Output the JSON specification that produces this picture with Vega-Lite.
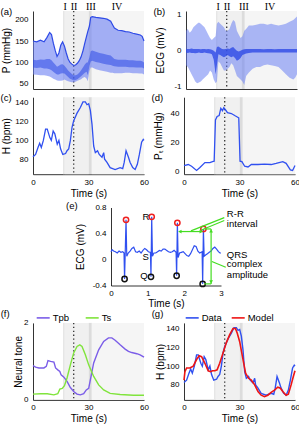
{
"$schema":"https://vega.github.io/schema/vega-lite/v6.json",
"padding":{"left":0,"top":1,"right":0,"bottom":0},
"datasets":{
"bands":[{"t":16.2,"t1":17.2,"kind":"edge"},{"t":17.2,"t1":30.1,"kind":"mid"},{"t":30.1,"t1":31.8,"kind":"dark"},{"t":31.8,"t1":60,"kind":"late"}],
"roman":[{"t":17.4,"label":"I"},{"t":22.2,"label":"II"},{"t":31.3,"label":"III"},{"t":45.4,"label":"IV"}],
"pressure":[{"t":0,"up":150,"lo":72,"mhi":106,"mlo":88},{"t":2,"up":148,"lo":71,"mhi":105,"mlo":87},{"t":4,"up":152,"lo":70,"mhi":107,"mlo":88},{"t":6,"up":148,"lo":70,"mhi":106,"mlo":86},{"t":7.5,"up":158,"lo":69,"mhi":108,"mlo":86},{"t":9,"up":170,"lo":67,"mhi":108,"mlo":84},{"t":10,"up":165,"lo":65,"mhi":105,"mlo":82},{"t":11,"up":145,"lo":62,"mhi":100,"mlo":78},{"t":12,"up":128,"lo":60,"mhi":95,"mlo":75},{"t":13,"up":114,"lo":58,"mhi":90,"mlo":72},{"t":14,"up":122,"lo":57,"mhi":92,"mlo":72},{"t":15,"up":140,"lo":57,"mhi":95,"mlo":74},{"t":16,"up":148,"lo":58,"mhi":96,"mlo":75},{"t":17,"up":138,"lo":60,"mhi":92,"mlo":74},{"t":18,"up":122,"lo":58,"mhi":87,"mlo":70},{"t":19,"up":108,"lo":56,"mhi":81,"mlo":66},{"t":20,"up":100,"lo":55,"mhi":77,"mlo":62},{"t":21,"up":96,"lo":54,"mhi":73,"mlo":60},{"t":22,"up":93,"lo":54,"mhi":70,"mlo":58},{"t":23,"up":94,"lo":55,"mhi":70,"mlo":59},{"t":24,"up":98,"lo":57,"mhi":72,"mlo":61},{"t":25,"up":104,"lo":59,"mhi":76,"mlo":64},{"t":26,"up":113,"lo":61,"mhi":82,"mlo":68},{"t":27,"up":127,"lo":64,"mhi":88,"mlo":72},{"t":28,"up":145,"lo":66,"mhi":95,"mlo":76},{"t":29,"up":162,"lo":62,"mhi":100,"mlo":78},{"t":29.6,"up":172,"lo":56,"mhi":100,"mlo":70},{"t":30.5,"up":185,"lo":80,"mhi":112,"mlo":92},{"t":31.2,"up":205,"lo":88,"mhi":126,"mlo":102},{"t":32,"up":207,"lo":88,"mhi":128,"mlo":104},{"t":34,"up":205,"lo":84,"mhi":125,"mlo":101},{"t":36,"up":204,"lo":82,"mhi":122,"mlo":99},{"t":38,"up":203,"lo":80,"mhi":120,"mlo":97},{"t":40,"up":201,"lo":78,"mhi":118,"mlo":95},{"t":42,"up":196,"lo":76,"mhi":116,"mlo":94},{"t":43,"up":188,"lo":76,"mhi":112,"mlo":92},{"t":44,"up":180,"lo":75,"mhi":108,"mlo":91},{"t":46,"up":175,"lo":75,"mhi":106,"mlo":90},{"t":48,"up":174,"lo":75,"mhi":106,"mlo":90},{"t":50,"up":172,"lo":76,"mhi":106,"mlo":90},{"t":52,"up":171,"lo":76,"mhi":105,"mlo":89},{"t":54,"up":168,"lo":75,"mhi":105,"mlo":89},{"t":56,"up":166,"lo":75,"mhi":104,"mlo":88},{"t":58,"up":164,"lo":74,"mhi":104,"mlo":88},{"t":59,"up":161,"lo":74,"mhi":103,"mlo":88},{"t":60,"up":150,"lo":72,"mhi":100,"mlo":86}],
"ecg":[{"t":0,"up":0.55,"lo":-0.4,"chi":0.05,"clo":-0.05},{"t":1,"up":0.6,"lo":-0.45,"chi":0.05,"clo":-0.06},{"t":2,"up":0.5,"lo":-0.55,"chi":0.05,"clo":-0.05},{"t":3,"up":0.55,"lo":-0.65,"chi":0.06,"clo":-0.06},{"t":4,"up":0.65,"lo":-0.75,"chi":0.05,"clo":-0.06},{"t":5,"up":0.7,"lo":-0.85,"chi":0.05,"clo":-0.07},{"t":6,"up":0.75,"lo":-0.9,"chi":0.05,"clo":-0.06},{"t":7,"up":0.78,"lo":-0.88,"chi":0.05,"clo":-0.05},{"t":8,"up":0.75,"lo":-0.85,"chi":0.04,"clo":-0.06},{"t":9,"up":0.7,"lo":-0.8,"chi":0.05,"clo":-0.06},{"t":10,"up":0.65,"lo":-0.75,"chi":0.05,"clo":-0.05},{"t":11,"up":0.55,"lo":-0.7,"chi":0.04,"clo":-0.06},{"t":12,"up":0.45,"lo":-0.65,"chi":0.05,"clo":-0.07},{"t":13,"up":0.35,"lo":-0.55,"chi":0.04,"clo":-0.08},{"t":14,"up":0.3,"lo":-0.6,"chi":0.03,"clo":-0.1},{"t":15,"up":0.35,"lo":-0.8,"chi":0,"clo":-0.25},{"t":16,"up":0.4,"lo":-0.9,"chi":-0.05,"clo":-0.65},{"t":16.7,"up":0.75,"lo":-0.85,"chi":0.1,"clo":-0.4},{"t":17.5,"up":0.8,"lo":-0.3,"chi":0.12,"clo":-0.1},{"t":18.5,"up":0.75,"lo":-0.35,"chi":0.08,"clo":-0.12},{"t":19.5,"up":0.7,"lo":-0.45,"chi":0.05,"clo":-0.15},{"t":20.5,"up":0.65,"lo":-0.55,"chi":0.04,"clo":-0.18},{"t":21.5,"up":0.55,"lo":-0.55,"chi":0.05,"clo":-0.15},{"t":22.5,"up":0.55,"lo":-0.5,"chi":0.06,"clo":-0.12},{"t":23.5,"up":0.6,"lo":-0.45,"chi":0.05,"clo":-0.15},{"t":24.5,"up":0.75,"lo":-0.35,"chi":0.08,"clo":-0.18},{"t":25.5,"up":0.85,"lo":-0.4,"chi":0.1,"clo":-0.15},{"t":26.5,"up":0.8,"lo":-0.55,"chi":0.05,"clo":-0.2},{"t":27.5,"up":0.55,"lo":-0.7,"chi":0,"clo":-0.28},{"t":28.5,"up":0.45,"lo":-0.75,"chi":-0.02,"clo":-0.25},{"t":29.5,"up":0.35,"lo":-0.8,"chi":0,"clo":-0.2},{"t":30.5,"up":0.4,"lo":-0.85,"chi":0.03,"clo":-0.12},{"t":31.5,"up":0.55,"lo":-0.95,"chi":0.04,"clo":-0.1},{"t":32.5,"up":0.6,"lo":-0.7,"chi":0.05,"clo":-0.08},{"t":34,"up":0.7,"lo":-0.6,"chi":0.05,"clo":-0.06},{"t":36,"up":0.7,"lo":-0.5,"chi":0.05,"clo":-0.05},{"t":38,"up":0.72,"lo":-0.45,"chi":0.05,"clo":-0.05},{"t":40,"up":0.75,"lo":-0.45,"chi":0.05,"clo":-0.05},{"t":42,"up":0.75,"lo":-0.4,"chi":0.04,"clo":-0.05},{"t":44,"up":0.72,"lo":-0.38,"chi":0.05,"clo":-0.05},{"t":46,"up":0.75,"lo":-0.4,"chi":0.05,"clo":-0.05},{"t":48,"up":0.72,"lo":-0.42,"chi":0.04,"clo":-0.05},{"t":50,"up":0.7,"lo":-0.45,"chi":0.05,"clo":-0.05},{"t":52,"up":0.72,"lo":-0.55,"chi":0.05,"clo":-0.05},{"t":54,"up":0.75,"lo":-0.65,"chi":0.05,"clo":-0.05},{"t":56,"up":0.8,"lo":-0.75,"chi":0.05,"clo":-0.05},{"t":58,"up":0.85,"lo":-0.8,"chi":0.05,"clo":-0.05},{"t":59,"up":0.9,"lo":-0.75,"chi":0.05,"clo":-0.05},{"t":60,"up":0.95,"lo":-0.65,"chi":0.05,"clo":-0.05}],
"hr":[{"t":0,"h":82.5},{"t":1.4,"h":85},{"t":2.7,"h":92.5},{"t":3.6,"h":97},{"t":4.5,"h":92.5},{"t":5.6,"h":100},{"t":6.8,"h":112},{"t":7.7,"h":112},{"t":9.1,"h":103},{"t":9.9,"h":100},{"t":10.9,"h":110},{"t":11.8,"h":107},{"t":13.1,"h":96},{"t":14,"h":100},{"t":14.9,"h":91},{"t":16.1,"h":85},{"t":17.6,"h":86},{"t":18.4,"h":89},{"t":19.3,"h":91},{"t":20.2,"h":100},{"t":21.1,"h":114},{"t":22,"h":121},{"t":23.8,"h":129},{"t":25.6,"h":135},{"t":27,"h":141},{"t":28.3,"h":141},{"t":29.2,"h":138},{"t":30.1,"h":139},{"t":31,"h":132},{"t":31.9,"h":117},{"t":32.8,"h":94},{"t":33.7,"h":87},{"t":34.9,"h":89},{"t":35.8,"h":85},{"t":37.3,"h":82},{"t":38.2,"h":87},{"t":38.7,"h":80},{"t":40,"h":76.5},{"t":41.7,"h":71},{"t":44.4,"h":69},{"t":47.1,"h":71},{"t":48.5,"h":70},{"t":49.3,"h":76.5},{"t":50.3,"h":89},{"t":51.6,"h":82},{"t":52.5,"h":76.5},{"t":53.9,"h":71},{"t":55.2,"h":69},{"t":56.4,"h":74.5},{"t":57.5,"h":85},{"t":58.7,"h":98},{"t":59.6,"h":101},{"t":60,"h":100}],
"pt":[{"t":0,"p":4},{"t":2.3,"p":4.7},{"t":4.1,"p":3.5},{"t":6.8,"p":0.6},{"t":8.6,"p":2.6},{"t":11.3,"p":6},{"t":14,"p":6},{"t":15.4,"p":6.7},{"t":16.3,"p":7},{"t":17,"p":35.5},{"t":17.9,"p":38},{"t":19,"p":38.6},{"t":19.9,"p":43.6},{"t":20.8,"p":42},{"t":21.5,"p":44},{"t":22.4,"p":42.6},{"t":23.5,"p":40.6},{"t":25.6,"p":40},{"t":27.4,"p":38.6},{"t":28.8,"p":37.6},{"t":29.6,"p":37},{"t":30.3,"p":7},{"t":31.3,"p":6.7},{"t":32.8,"p":3.5},{"t":34.6,"p":3},{"t":36.4,"p":4.7},{"t":40,"p":4.7},{"t":43.5,"p":5},{"t":47.1,"p":4.7},{"t":49.8,"p":5.5},{"t":53.4,"p":6.7},{"t":55.2,"p":5.5},{"t":57.5,"p":1},{"t":58.7,"p":0.6},{"t":60,"p":4}],
"ecg3":[{"t":0,"v":0.12},{"t":0.03,"v":0.15},{"t":0.07,"v":0.13},{"t":0.12,"v":0.12},{"t":0.17,"v":0.1},{"t":0.22,"v":0.13},{"t":0.27,"v":0.11},{"t":0.32,"v":0.12},{"t":0.355,"v":0.1},{"t":0.37,"v":-0.3},{"t":0.41,"v":0.61},{"t":0.43,"v":0.05},{"t":0.47,"v":0.1},{"t":0.52,"v":0.13},{"t":0.57,"v":0.17},{"t":0.62,"v":0.19},{"t":0.67,"v":0.12},{"t":0.72,"v":0.11},{"t":0.77,"v":0.13},{"t":0.82,"v":0.1},{"t":0.87,"v":0.14},{"t":0.92,"v":0.17},{"t":0.97,"v":0.15},{"t":1.02,"v":0.12},{"t":1.075,"v":0.11},{"t":1.09,"v":-0.267},{"t":1.11,"v":0.656},{"t":1.13,"v":0.05},{"t":1.17,"v":0.1},{"t":1.22,"v":0.1},{"t":1.27,"v":0.12},{"t":1.32,"v":0.14},{"t":1.37,"v":0.13},{"t":1.42,"v":0.16},{"t":1.47,"v":0.16},{"t":1.52,"v":0.14},{"t":1.57,"v":0.12},{"t":1.62,"v":0.11},{"t":1.67,"v":0.12},{"t":1.72,"v":0.14},{"t":1.775,"v":0.11},{"t":1.79,"v":-0.25},{"t":1.81,"v":0.564},{"t":1.83,"v":0.03},{"t":1.87,"v":0.1},{"t":1.92,"v":0.11},{"t":1.97,"v":0.12},{"t":2.02,"v":0.09},{"t":2.07,"v":0.06},{"t":2.12,"v":0.05},{"t":2.17,"v":0.09},{"t":2.22,"v":0.15},{"t":2.27,"v":0.21},{"t":2.32,"v":0.2},{"t":2.37,"v":0.13},{"t":2.42,"v":0.1},{"t":2.485,"v":0.12},{"t":2.5,"v":-0.375},{"t":2.52,"v":0.47},{"t":2.54,"v":0.05},{"t":2.58,"v":0.07},{"t":2.63,"v":0.09},{"t":2.68,"v":0.11},{"t":2.73,"v":0.13},{"t":2.78,"v":0.17},{"t":2.83,"v":0.19},{"t":2.88,"v":0.16},{"t":2.93,"v":0.12},{"t":2.97,"v":0.1},{"t":3,"v":0.1}],
"rpk":[{"t":0.41,"v":0.61},{"t":1.11,"v":0.656},{"t":1.81,"v":0.564},{"t":2.52,"v":0.47}],
"qpk":[{"t":0.37,"v":-0.3},{"t":1.09,"v":-0.267},{"t":1.79,"v":-0.25},{"t":2.5,"v":-0.375}],
"rsq":[{"t":0.86,"v":0.615,"label":"R"},{"t":0.86,"v":0.0,"label":"S"},{"t":0.8,"v":-0.3,"label":"Q"}],
"gline":[{"t":1.85,"v":0.43,"t2":2.49,"v2":0.43},{"t":2.55,"v":0.47,"t2":2.73,"v2":0.47},{"t":2.55,"v":-0.375,"t2":2.73,"v2":-0.375},{"t":2.73,"v":0.47,"t2":2.73,"v2":-0.375},{"t":2.18,"v":0.44,"t2":3.09,"v2":0.645},{"t":2.45,"v":0.45,"t2":3.09,"v2":0.6},{"t":2.75,"v":-0.03,"t2":3.13,"v2":-0.12}],
"ghead":[{"t":1.88,"v":0.43,"dir":"l"},{"t":2.46,"v":0.43,"dir":"r"},{"t":2.73,"v":0.44,"dir":"u"},{"t":2.73,"v":-0.345,"dir":"d"}],
"gtext":[{"t":3.16,"v":0.66,"label":"R-R"},{"t":3.16,"v":0.5,"label":"interval"},{"t":3.16,"v":0.03,"label":"QRS"},{"t":3.16,"v":-0.12,"label":"complex"},{"t":3.16,"v":-0.28,"label":"amplitude"}],
"tone":[{"t":0,"v":0.89,"s":"Tpb"},{"t":1.4,"v":0.85,"s":"Tpb"},{"t":3.2,"v":0.83,"s":"Tpb"},{"t":5.9,"v":0.83,"s":"Tpb"},{"t":7.2,"v":0.87,"s":"Tpb"},{"t":8.1,"v":1.02,"s":"Tpb"},{"t":9.5,"v":1.0,"s":"Tpb"},{"t":11.3,"v":0.98,"s":"Tpb"},{"t":12.2,"v":0.83,"s":"Tpb"},{"t":13.4,"v":0.78,"s":"Tpb"},{"t":14.5,"v":0.74,"s":"Tpb"},{"t":15.2,"v":0.65,"s":"Tpb"},{"t":16.7,"v":0.59,"s":"Tpb"},{"t":18.4,"v":0.48,"s":"Tpb"},{"t":20.2,"v":0.32,"s":"Tpb"},{"t":22,"v":0.22,"s":"Tpb"},{"t":23.8,"v":0.15,"s":"Tpb"},{"t":25.6,"v":0.13,"s":"Tpb"},{"t":27.4,"v":0.16,"s":"Tpb"},{"t":28.8,"v":0.26,"s":"Tpb"},{"t":30.1,"v":0.3,"s":"Tpb"},{"t":31,"v":0.52,"s":"Tpb"},{"t":32.8,"v":0.96,"s":"Tpb"},{"t":35.5,"v":1.3,"s":"Tpb"},{"t":38.2,"v":1.52,"s":"Tpb"},{"t":40.8,"v":1.61,"s":"Tpb"},{"t":42.6,"v":1.61,"s":"Tpb"},{"t":44.4,"v":1.55,"s":"Tpb"},{"t":47.1,"v":1.43,"s":"Tpb"},{"t":49.8,"v":1.32,"s":"Tpb"},{"t":51.6,"v":1.26,"s":"Tpb"},{"t":53.4,"v":1.23,"s":"Tpb"},{"t":56.1,"v":1.2,"s":"Tpb"},{"t":57.9,"v":1.17,"s":"Tpb"},{"t":60,"v":1.11,"s":"Tpb"},{"t":0,"v":0.15,"s":"Ts"},{"t":4.1,"v":0.16,"s":"Ts"},{"t":7.7,"v":0.16,"s":"Ts"},{"t":11.3,"v":0.13,"s":"Ts"},{"t":13.4,"v":0.16,"s":"Ts"},{"t":14.5,"v":0.28,"s":"Ts"},{"t":15.8,"v":0.3,"s":"Ts"},{"t":17,"v":0.37,"s":"Ts"},{"t":18.4,"v":0.57,"s":"Ts"},{"t":20.2,"v":0.91,"s":"Ts"},{"t":22,"v":1.22,"s":"Ts"},{"t":23.8,"v":1.39,"s":"Ts"},{"t":25.3,"v":1.43,"s":"Ts"},{"t":26.5,"v":1.39,"s":"Ts"},{"t":28.3,"v":1.17,"s":"Ts"},{"t":30.1,"v":0.91,"s":"Ts"},{"t":32.8,"v":0.61,"s":"Ts"},{"t":35.5,"v":0.39,"s":"Ts"},{"t":38.2,"v":0.26,"s":"Ts"},{"t":41.7,"v":0.17,"s":"Ts"},{"t":47.1,"v":0.14,"s":"Ts"},{"t":54.3,"v":0.12,"s":"Ts"},{"t":60,"v":0.12,"s":"Ts"}],
"model":[{"t":0,"h":85},{"t":0.5,"h":94},{"t":1.4,"h":98},{"t":3.2,"h":98},{"t":5,"h":100},{"t":6.8,"h":107},{"t":8.2,"h":111},{"t":9.5,"h":110},{"t":11.3,"h":103},{"t":13.1,"h":95},{"t":14.3,"h":94},{"t":15.4,"h":95},{"t":16.7,"h":95},{"t":17.9,"h":96},{"t":19.3,"h":103},{"t":21.1,"h":114},{"t":22.9,"h":125},{"t":24.7,"h":133.5},{"t":26.5,"h":140},{"t":27.8,"h":140},{"t":28.8,"h":135},{"t":30.1,"h":126},{"t":31.9,"h":107},{"t":33.3,"h":92.5},{"t":34.9,"h":87},{"t":36.4,"h":85},{"t":38.2,"h":80},{"t":40,"h":73},{"t":41.7,"h":69},{"t":43.5,"h":67.5},{"t":45.3,"h":69},{"t":47.1,"h":72},{"t":48.9,"h":74.5},{"t":50.7,"h":77.5},{"t":52.1,"h":76.5},{"t":53.4,"h":73},{"t":55.2,"h":69},{"t":56.4,"h":70},{"t":57.9,"h":80},{"t":59.1,"h":89},{"t":60,"h":95}]
},
"resolve":{"scale":{"color":"independent"},"legend":{"color":"independent"}},
"vconcat":[
{"vconcat":[
 {"hconcat":[
  {"width":111,"height":78,"title":{"text":"(a)","offset":-15,"dx":-32.5},
   "resolve":{"axis":{"x":"independent","y":"independent"}},
   "layer":[
    {"data":{"name":"bands"},"mark":"rect","encoding":{"x":{"field":"t","type":"quantitative","scale":{"domain":[0,60],"nice":false,"zero":false},"axis":{"title":null,"labels":false,"values":[0,30,60]}},"x2":{"field":"t1"},"fill":{"field":"kind","type":"nominal","scale":{"domain":["edge","mid","dark","late"],"range":["#e6e6e6","#f0f0f0","#dcdcdc","#f5f5f5"]},"legend":null}}},
    {"data":{"values":[{}]},"mark":{"type":"rule","color":"#333","strokeWidth":1.3,"strokeDash":[1.3,2.6]},"encoding":{"x":{"datum":22,"type":"quantitative","axis":null}}},
    {"data":{"name":"pressure"},"mark":{"type":"area","color":"#6a7ff3","opacity":0.6},"encoding":{"x":{"field":"t","type":"quantitative","axis":null},"y":{"field":"up","type":"quantitative","scale":{"domain":[38,220],"nice":false,"zero":false},"axis":{"title":"P (mmHg)","values":[50,100,150,200],"format":"d","titleX":-23.5,"titleY":39}},"y2":{"field":"lo"}}},
    {"data":{"name":"pressure"},"mark":{"type":"area","color":"#2e4ae6","opacity":0.55},"encoding":{"x":{"field":"t","type":"quantitative","axis":null},"y":{"field":"mhi","type":"quantitative","axis":null},"y2":{"field":"mlo"}}},
    {"data":{"name":"pressure"},"mark":{"type":"line","color":"#2e4ae6","strokeWidth":1.2},"encoding":{"x":{"field":"t","type":"quantitative","axis":null},"y":{"field":"up","type":"quantitative","axis":null}}},
    {"data":{"name":"roman"},"mark":{"type":"text","font":"Liberation Serif","fontSize":10,"baseline":"alphabetic"},"encoding":{"x":{"field":"t","type":"quantitative","axis":null},"y":{"datum":222.5,"type":"quantitative","axis":null},"text":{"field":"label","type":"nominal"}}}
   ]},
  {"width":111,"height":78,"title":{"text":"(b)","offset":-15,"dx":-32.5},
   "resolve":{"axis":{"x":"independent","y":"independent"}},
   "layer":[
    {"data":{"name":"bands"},"mark":"rect","encoding":{"x":{"field":"t","type":"quantitative","scale":{"domain":[0,60],"nice":false,"zero":false},"axis":{"title":null,"labels":false,"values":[0,30,60]}},"x2":{"field":"t1"},"fill":{"field":"kind","type":"nominal","scale":{"domain":["edge","mid","dark","late"],"range":["#e6e6e6","#f0f0f0","#dcdcdc","#f5f5f5"]},"legend":null}}},
    {"data":{"values":[{}]},"mark":{"type":"rule","color":"#333","strokeWidth":1.3,"strokeDash":[1.3,2.6]},"encoding":{"x":{"datum":22,"type":"quantitative","axis":null}}},
    {"data":{"name":"ecg"},"mark":{"type":"area","color":"#6a7ff3","opacity":0.55},"encoding":{"x":{"field":"t","type":"quantitative","axis":null},"y":{"field":"up","type":"quantitative","scale":{"domain":[-1.06,1.1],"nice":false,"zero":false},"axis":{"title":"ECG (mV)","values":[-1,0,1],"format":"d","labelExpr":"replace(datum.label,'−','-')","titleX":-22.5,"titleY":39}},"y2":{"field":"lo"}}},
    {"data":{"name":"ecg"},"mark":{"type":"area","color":"#2e4ae6","opacity":0.8},"encoding":{"x":{"field":"t","type":"quantitative","axis":null},"y":{"field":"chi","type":"quantitative","axis":null},"y2":{"field":"clo"}}},
    {"data":{"name":"roman"},"mark":{"type":"text","font":"Liberation Serif","fontSize":10,"baseline":"alphabetic"},"encoding":{"x":{"field":"t","type":"quantitative","axis":null},"y":{"datum":1.128,"type":"quantitative","axis":null},"text":{"field":"label","type":"nominal"}}}
   ]}
 ],"spacing":6},
 {"hconcat":[
  {"width":111,"height":77,"title":{"text":"(c)","offset":-5.5,"dx":-32.5},
   "resolve":{"axis":{"x":"independent","y":"independent"}},
   "layer":[
    {"data":{"name":"bands"},"mark":"rect","encoding":{"x":{"field":"t","type":"quantitative","scale":{"domain":[0,60],"nice":false,"zero":false},"axis":{"title":"Time (s)","values":[0,30,60],"format":"d","titleX":55.5,"titleY":22}},"x2":{"field":"t1"},"fill":{"field":"kind","type":"nominal","scale":{"domain":["edge","mid","dark","late"],"range":["#e6e6e6","#f0f0f0","#dcdcdc","#f5f5f5"]},"legend":null}}},
    {"data":{"values":[{}]},"mark":{"type":"rule","color":"#333","strokeWidth":1.3,"strokeDash":[1.3,2.6]},"encoding":{"x":{"datum":22,"type":"quantitative","axis":null}}},
    {"data":{"name":"hr"},"mark":{"type":"line","color":"#3050f0","strokeWidth":1.3},"encoding":{"x":{"field":"t","type":"quantitative","axis":null},"y":{"field":"h","type":"quantitative","scale":{"domain":[64,146],"nice":false,"zero":false},"axis":{"title":"H (bpm)","values":[80,100,120,140],"format":"d","titleX":-23.5,"titleY":38.5}}}}
   ]},
  {"width":111,"height":77,"title":{"text":"(d)","offset":-5.5,"dx":-32.5},
   "resolve":{"axis":{"x":"independent","y":"independent"}},
   "layer":[
    {"data":{"name":"bands"},"mark":"rect","encoding":{"x":{"field":"t","type":"quantitative","scale":{"domain":[0,60],"nice":false,"zero":false},"axis":{"title":"Time (s)","values":[0,30,60],"format":"d","titleX":55.5,"titleY":22}},"x2":{"field":"t1"},"fill":{"field":"kind","type":"nominal","scale":{"domain":["edge","mid","dark","late"],"range":["#e6e6e6","#f0f0f0","#dcdcdc","#f5f5f5"]},"legend":null}}},
    {"data":{"values":[{}]},"mark":{"type":"rule","color":"#333","strokeWidth":1.3,"strokeDash":[1.3,2.6]},"encoding":{"x":{"datum":22,"type":"quantitative","axis":null}}},
    {"data":{"name":"pt"},"mark":{"type":"line","color":"#3050f0","strokeWidth":1.3},"encoding":{"x":{"field":"t","type":"quantitative","axis":null},"y":{"field":"p","type":"quantitative","scale":{"domain":[-2,51.3],"nice":false,"zero":false},"axis":{"title":"Pₜ (mmHg)","values":[0,20,40],"format":"d","titleX":-22.5,"titleY":38.5}}}}
   ]}
 ],"spacing":2}
],"spacing":1.2},
{"resolve":{"scale":{"color":"independent"},"legend":{"color":"independent"}},
 "vconcat":[
 {"hconcat":[
  {"width":32.5,"height":10,"data":{"values":[]},"mark":"point"},
  {"width":110,"height":78,"title":{"text":"(e)","offset":-7,"dx":-45},
   "resolve":{"axis":{"x":"independent","y":"independent"}},
   "layer":[
    {"data":{"name":"ecg3"},"mark":{"type":"line","color":"#3050f0","strokeWidth":1.2},"encoding":{"x":{"field":"t","type":"quantitative","scale":{"domain":[0,3],"nice":false,"zero":false},"axis":{"title":"Time (s)","values":[0,1,2,3],"format":"d","titleX":55,"titleY":20.5}},"y":{"field":"v","type":"quantitative","scale":{"domain":[-0.4,0.8],"nice":false,"zero":false},"axis":{"title":"ECG (mV)","values":[-0.4,0,0.4,0.8],"format":".1~f","labelExpr":"replace(datum.label,'−','-')","titleX":-27.5,"titleY":39}}}},
    {"data":{"name":"rpk"},"mark":{"type":"point","shape":"circle","filled":false,"color":"#ee2020","strokeWidth":1.5,"size":28,"opacity":1},"encoding":{"x":{"field":"t","type":"quantitative","axis":null},"y":{"field":"v","type":"quantitative","axis":null}}},
    {"data":{"name":"qpk"},"mark":{"type":"point","shape":"circle","filled":false,"color":"#111111","strokeWidth":1.5,"size":28,"opacity":1},"encoding":{"x":{"field":"t","type":"quantitative","axis":null},"y":{"field":"v","type":"quantitative","axis":null}}},
    {"data":{"name":"rsq"},"mark":{"type":"text","fontSize":9.5,"align":"left","baseline":"alphabetic"},"encoding":{"x":{"field":"t","type":"quantitative","axis":null},"y":{"field":"v","type":"quantitative","axis":null},"text":{"field":"label","type":"nominal"}}},
    {"data":{"name":"gline"},"mark":{"type":"rule","color":"#44dd22","strokeWidth":1.2},"encoding":{"x":{"field":"t","type":"quantitative","axis":null},"y":{"field":"v","type":"quantitative","axis":null},"x2":{"field":"t2"},"y2":{"field":"v2"}}},
    {"data":{"name":"ghead"},"mark":{"type":"point","filled":true,"color":"#44dd22","size":14,"opacity":1},"encoding":{"x":{"field":"t","type":"quantitative","axis":null},"y":{"field":"v","type":"quantitative","axis":null},"shape":{"field":"dir","type":"nominal","scale":{"domain":["l","r","u","d"],"range":["triangle-left","triangle-right","triangle-up","triangle-down"]},"legend":null}}},
    {"data":{"name":"gtext"},"mark":{"type":"text","fontSize":9.5,"align":"left","baseline":"alphabetic"},"encoding":{"x":{"field":"t","type":"quantitative","axis":null},"y":{"field":"v","type":"quantitative","axis":null},"text":{"field":"label","type":"nominal"}}}
   ]}
 ],"spacing":0},
 {"resolve":{"scale":{"color":"independent"},"legend":{"color":"independent"}},
  "hconcat":[
  {"width":111,"height":77,"title":{"text":"(f)","offset":-8.5,"dx":-32.3},
   "resolve":{"axis":{"x":"independent","y":"independent"}},
   "layer":[
    {"data":{"name":"bands"},"mark":"rect","encoding":{"x":{"field":"t","type":"quantitative","scale":{"domain":[0,60],"nice":false,"zero":false},"axis":{"title":"Time (s)","values":[0,30,60],"format":"d","titleX":55.5,"titleY":22}},"x2":{"field":"t1"},"fill":{"field":"kind","type":"nominal","scale":{"domain":["edge","mid","dark","late"],"range":["#e6e6e6","#f0f0f0","#dcdcdc","#f5f5f5"]},"legend":null}}},
    {"data":{"values":[{}]},"mark":{"type":"rule","color":"#333","strokeWidth":1.3,"strokeDash":[1.3,2.6]},"encoding":{"x":{"datum":22,"type":"quantitative","axis":null}}},
    {"data":{"name":"tone"},"mark":{"type":"line","strokeWidth":1.4},"encoding":{"x":{"field":"t","type":"quantitative","axis":null},"y":{"field":"v","type":"quantitative","scale":{"domain":[0,2],"nice":false,"zero":false},"axis":{"title":"Neural tone","values":[0,1,2],"format":"d","titleX":-11.8,"titleY":38.5}},"color":{"field":"s","type":"nominal","scale":{"domain":["Tpb","Ts"],"range":["#7b5de8","#80e43c"]},"legend":{"orient":"none","legendX":2.7,"legendY":-12.5,"direction":"horizontal","title":null,"symbolType":"stroke","symbolSize":169,"symbolStrokeWidth":1.6,"labelFontSize":9.5,"labelOffset":2,"columnPadding":12,"padding":0}}}}
   ]},
  {"width":111,"height":77,"title":{"text":"(g)","offset":-8.5,"dx":-32.3},
   "resolve":{"axis":{"x":"independent","y":"independent"}},
   "layer":[
    {"data":{"name":"bands"},"mark":"rect","encoding":{"x":{"field":"t","type":"quantitative","scale":{"domain":[0,60],"nice":false,"zero":false},"axis":{"title":"Time (s)","values":[0,30,60],"format":"d","titleX":55.5,"titleY":22}},"x2":{"field":"t1"},"fill":{"field":"kind","type":"nominal","scale":{"domain":["edge","mid","dark","late"],"range":["#e6e6e6","#f0f0f0","#dcdcdc","#f5f5f5"]},"legend":null}}},
    {"data":{"values":[{}]},"mark":{"type":"rule","color":"#333","strokeWidth":1.3,"strokeDash":[1.3,2.6]},"encoding":{"x":{"datum":22,"type":"quantitative","axis":null}}},
    {"data":{"name":"hr"},"mark":{"type":"line","strokeWidth":1.4},"encoding":{"x":{"field":"t","type":"quantitative","axis":null},"y":{"field":"h","type":"quantitative","scale":{"domain":[64,146],"nice":false,"zero":false},"axis":{"title":"H (bpm)","values":[80,100,120,140],"format":"d","titleX":-21,"titleY":38.5}},"color":{"datum":"Data","type":"nominal","scale":{"domain":["Data","Model"],"range":["#3050f0","#ee1515"]},"legend":{"orient":"none","legendX":0.7,"legendY":-12.5,"direction":"horizontal","title":null,"symbolType":"stroke","symbolSize":169,"symbolStrokeWidth":1.6,"labelFontSize":9.5,"labelOffset":2,"columnPadding":5,"padding":0}}}},
    {"data":{"name":"model"},"mark":{"type":"line","strokeWidth":1.6},"encoding":{"x":{"field":"t","type":"quantitative","axis":null},"y":{"field":"h","type":"quantitative","axis":null},"color":{"datum":"Model","type":"nominal"}}}
   ]}
 ],"spacing":2}
],"spacing":0.4}
],
"spacing":1.5,
"config":{
 "view":{"stroke":null},
 "font":"Liberation Sans",
 "axis":{"grid":false,"ticks":false,"domainColor":"#000","domainWidth":0.8,"labelFont":"Liberation Sans","labelFontSize":8,"labelColor":"#000","labelPadding":5,"labelFlush":false,"labelOverlap":false,"titleFont":"Liberation Sans","titleFontSize":10,"titleFontWeight":"normal","titleColor":"#000","titleBaseline":"alphabetic","titleAlign":"center"},
 "axisX":{"labelPadding":4},
 "title":{"font":"Liberation Sans","fontSize":9.5,"fontWeight":"normal","anchor":"start","frame":"group","baseline":"alphabetic","color":"#000"},
 "legend":{"labelFont":"Liberation Sans","labelFontSize":9.5,"labelColor":"#000"},
 "text":{"font":"Liberation Sans","color":"#000"}
}
}
